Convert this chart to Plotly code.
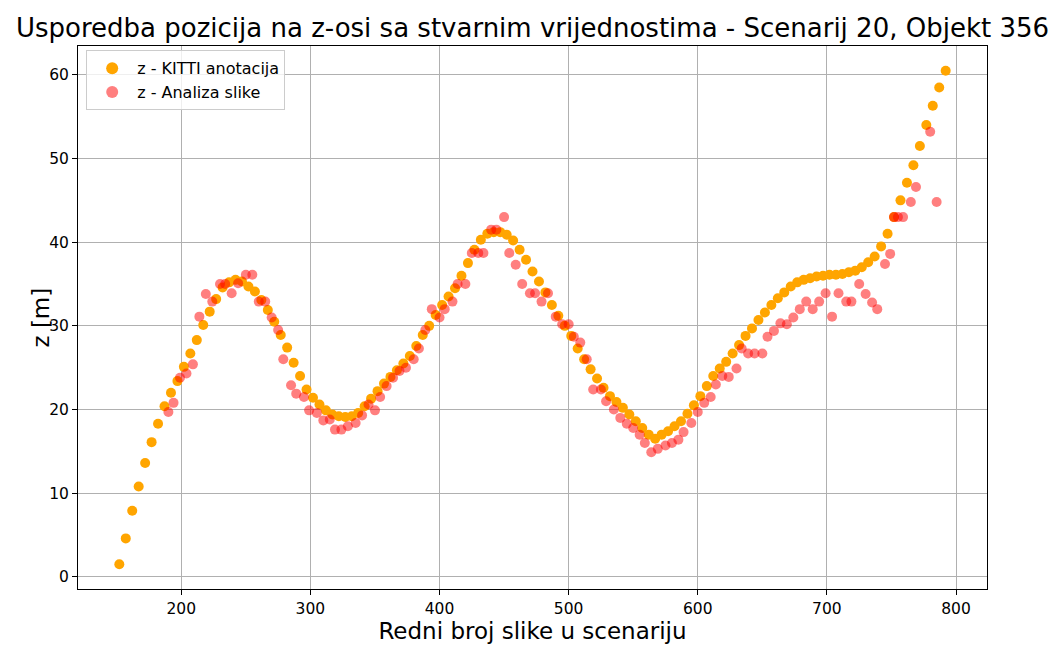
import plotly.graph_objects as go

# KITTI annotation (orange)
kitti_frames = [152, 157, 162, 167, 172, 177, 182, 187, 192, 197, 202, 207, 212, 217, 222, 227,
                232, 237, 242, 247, 252, 257, 262, 267, 272, 277, 282, 287, 292, 297, 302, 307,
                312, 317, 322, 327, 332, 337, 342, 347, 352, 357, 362, 367, 372, 377, 382, 387,
                392, 397, 402, 407, 412, 417, 422, 427, 432, 437, 442, 447, 452, 457, 462, 467,
                472, 477, 482, 487, 492, 497, 502, 507, 512, 517, 522, 527, 532, 537, 542, 547,
                552, 557, 562, 567, 572, 577, 582, 587, 592, 597, 602, 607, 612, 617, 622, 627,
                632, 637, 642, 647, 652, 657, 662, 667, 672, 677, 682, 687, 692, 697, 702, 707,
                712, 717, 722, 727, 732, 737, 742, 747, 752, 757, 762, 767, 772, 777, 782, 787, 792]
kitti_z = [1.5, 4.6, 7.9, 10.8, 13.6, 16.1, 18.3, 20.4, 22.0, 23.4, 25.1, 26.7, 28.3, 30.1, 31.7, 33.2,
           34.6, 35.2, 35.5, 35.3, 34.7, 34.1, 33.1, 31.9, 30.5, 28.9, 27.4, 25.6, 24.0, 22.4, 21.4, 20.6,
           19.9, 19.4, 19.2, 19.1, 19.2, 19.6, 20.4, 21.3, 22.2, 23.1, 23.9, 24.7, 25.5, 26.4, 27.6, 28.9,
           30.0, 31.3, 32.5, 33.5, 34.5, 36.0, 37.5, 39.1, 40.3, 41.0, 41.2, 41.2, 40.9, 40.2, 39.1, 37.9,
           36.5, 35.3, 34.0, 32.5, 31.2, 30.0, 28.8, 27.3, 26.0, 24.8, 23.7, 22.6, 21.6, 20.9, 20.2, 19.4,
           18.6, 17.8, 17.0, 16.5, 17.0, 17.4, 18.0, 18.6, 19.5, 20.5, 21.6, 22.8, 24.0, 24.9, 25.7, 26.7,
           27.7, 28.8, 29.7, 30.7, 31.6, 32.5, 33.3, 34.0, 34.7, 35.2, 35.5, 35.7, 35.9, 36.0, 36.1, 36.1,
           36.2, 36.4, 36.6, 37.0, 37.6, 38.3, 39.5, 41.0, 43.0, 45.0, 47.1, 49.2, 51.5, 54.0, 56.3, 58.5, 60.5]

# Image analysis (red)
img_frames = [190, 194, 199, 204, 209, 214, 219, 224, 230, 234, 239, 244, 250, 255, 260, 265,
              270, 275, 279, 285, 289, 295, 299, 305, 310, 315, 319, 324, 329, 335, 340, 345,
              350, 354, 359, 364, 369, 374, 380, 384, 389, 394, 400, 404, 410, 414, 420, 425,
              430, 434, 440, 444, 450, 454, 459, 464, 470, 474, 479, 484, 490, 495, 500, 504,
              509, 514, 519, 525, 529, 535, 540, 545, 550, 555, 559, 564, 569, 575, 580, 585,
              589, 595, 600, 605, 610, 614, 619, 624, 630, 634, 639, 644, 650, 654, 659, 664,
              669, 674, 679, 684, 689, 694, 699, 704, 709, 715, 719, 725, 730, 735, 739, 745,
              749, 752, 755, 759, 765, 769, 780, 785]
img_z = [19.7, 20.8, 23.8, 24.3, 25.4, 31.1, 33.8, 32.9, 35.0, 35.0, 33.9, 35.1, 36.1, 36.1, 32.9, 32.9,
         31.0, 29.5, 26.0, 22.9, 21.9, 21.5, 19.9, 19.6, 18.7, 18.8, 17.6, 17.6, 18.0, 18.4, 19.3, 20.6,
         19.9, 21.5, 22.8, 23.8, 24.6, 25.0, 26.0, 27.3, 29.5, 32.0, 31.0, 32.0, 32.9, 35.0, 35.0, 38.7,
         38.7, 38.7, 41.5, 41.5, 43.0, 38.7, 37.3, 35.0, 33.9, 33.9, 32.9, 33.9, 31.1, 30.2, 30.2, 28.7,
         28.0, 26.0, 22.4, 22.4, 21.0, 20.0, 19.0, 18.3, 17.8, 17.0, 16.0, 14.9, 15.3, 15.7, 16.0, 16.4,
         17.3, 18.4, 19.7, 20.8, 21.5, 23.0, 24.0, 23.9, 24.9, 27.3, 26.7, 26.7, 26.7, 28.7, 29.4, 30.3,
         30.2, 31.0, 32.0, 32.9, 32.0, 32.9, 33.9, 31.1, 33.9, 32.9, 32.9, 35.0, 33.8, 32.8, 32.0, 37.4,
         38.6, 43.0, 43.0, 43.0, 44.8, 46.6, 53.2, 44.8]

x_ticks = [200, 300, 400, 500, 600, 700, 800]
y_ticks = [0, 10, 20, 30, 40, 50, 60]

title_text = "Usporedba pozicija na z-osi sa stvarnim vrijednostima - Scenarij 20, Objekt 356"
x_label = "Redni broj slike u scenariju"
y_label = "z [m]"

FONT = "DejaVu Sans"

fig = go.Figure()
fig.add_trace(go.Scatter(
    x=kitti_frames, y=kitti_z, mode="markers", name="z - KITTI anotacija",
    marker=dict(color="#FFA500", size=10, line=dict(width=0)),
))
fig.add_trace(go.Scatter(
    x=img_frames, y=img_z, mode="markers", name="z - Analiza slike",
    marker=dict(color="rgba(255,0,0,0.5)", size=10, line=dict(width=0)),
))

axis_common = dict(
    showline=True, linecolor="black", linewidth=1, mirror=True,
    ticks="outside", ticklen=5, tickwidth=1, tickcolor="black",
    showgrid=True, gridcolor="#b0b0b0", gridwidth=1, zeroline=False,
    automargin=False,
    tickfont=dict(family=FONT, size=15.5, color="black"),
)

fig.update_layout(
    width=1057, height=646,
    paper_bgcolor="white", plot_bgcolor="white",
    margin=dict(l=70, r=78, t=38, b=65),
    title=dict(text=title_text, x=0.5, xref="paper", xanchor="center",
               y=1 - 20 / 646, yref="container", yanchor="middle",
               font=dict(family=FONT, size=26, color="black")),
    xaxis=dict(range=[120, 824], tickvals=x_ticks,
               title=dict(text=x_label, font=dict(family=FONT, size=23, color="black"), standoff=5),
               **axis_common),
    yaxis=dict(range=[-1.45, 63.45], tickvals=y_ticks, **axis_common),
    legend=dict(x=0.009, y=0.992, xanchor="left", yanchor="top",
                bgcolor="rgba(255,255,255,0.8)", bordercolor="#cccccc", borderwidth=1,
                font=dict(family=FONT, size=16, color="black"), itemsizing="constant",
                itemwidth=40, tracegroupgap=2),
    annotations=[dict(text=y_label, x=0, xref="paper", y=0.5, yref="paper",
                      xanchor="center", yanchor="middle", xshift=-38, textangle=-90,
                      showarrow=False, font=dict(family=FONT, size=23, color="black"))],
    showlegend=True,
)

fig.write_html("out.html")
